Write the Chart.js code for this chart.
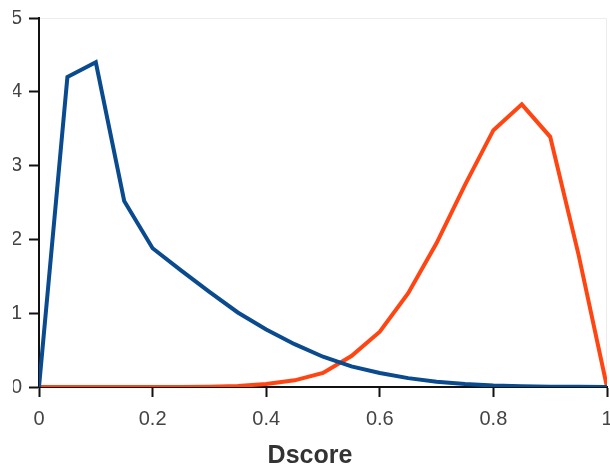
<!DOCTYPE html>
<html>
<head>
<meta charset="utf-8">
<script src="https://cdn.jsdelivr.net/npm/chart.js@4"></script>
<style>
  html, body { margin: 0; padding: 0; background: #fff; }
  #wrap { width: 610px; height: 467px; }
</style>
</head>
<body>
<div id="wrap"><canvas id="chart" width="610" height="467"></canvas></div>
<script>
// ===== DATA =====
const xValues = [0, 0.05, 0.1, 0.15, 0.2, 0.25, 0.3, 0.35, 0.4, 0.45, 0.5,
                 0.55, 0.6, 0.65, 0.7, 0.75, 0.8, 0.85, 0.9, 0.95, 1];
const blueValues = [0, 4.2, 4.4, 2.52, 1.88, 1.58, 1.29, 1.01, 0.78, 0.58, 0.41,
                    0.28, 0.19, 0.12, 0.07, 0.04, 0.02, 0.01, 0.005, 0.002, 0];
const redValues = [0, 0, 0, 0, 0, 0, 0.005, 0.015, 0.04, 0.09, 0.19,
                   0.42, 0.75, 1.27, 1.95, 2.74, 3.48, 3.83, 3.39, 1.79, 0];
const xTicks = [0, 0.2, 0.4, 0.6, 0.8, 1];
const yTicks = [0, 1, 2, 3, 4, 5];
const xTitle = 'Dscore';

const toPoints = vals => xValues.map((x, i) => ({ x, y: vals[i] }));

// faint frame on top/right of plot area
const framePlugin = {
    id: 'frame',
    beforeDraw(chart) {
        const { ctx, chartArea: a } = chart;
        ctx.save();
        ctx.strokeStyle = '#ececec';
        ctx.lineWidth = 1;
        ctx.beginPath();
        ctx.moveTo(a.left, a.top + 0.5);
        ctx.lineTo(a.right - 0.5, a.top + 0.5);
        ctx.lineTo(a.right - 0.5, a.bottom);
        ctx.stroke();
        ctx.restore();
    }
};

new Chart(document.getElementById('chart'), {
    type: 'line',
    data: {
        datasets: [
            {
                data: toPoints(blueValues),
                borderColor: '#0a4a8e',
                borderWidth: 4,
                pointRadius: 0,
                tension: 0,
                fill: false
            },
            {
                data: toPoints(redValues),
                borderColor: '#ff4512',
                borderWidth: 4,
                pointRadius: 0,
                tension: 0,
                fill: false
            }
        ]
    },
    options: {
        responsive: false,
        animation: false,
        layout: { padding: { top: 18, right: 3, left: 13, bottom: 0 } },
        plugins: {
            legend: { display: false },
            tooltip: { enabled: false },
            title: {
                display: true,
                position: 'bottom',
                text: xTitle,
                color: '#333',
                font: { family: 'Liberation Sans', size: 25, weight: 'bold', lineHeight: 0.9 },
                padding: 0
            }
        },
        scales: {
            x: {
                type: 'linear',
                min: 0,
                max: 1,
                afterBuildTicks: s => { s.ticks = xTicks.map(v => ({ value: v })); },
                afterFit: s => { s.height = 80 - 22.5; s.paddingLeft = 0; s.paddingRight = 0; },
                grid: { drawOnChartArea: false, drawTicks: true, tickLength: 10, tickWidth: 2, tickColor: '#111' },
                border: { color: '#111', width: 2 },
                ticks: {
                    color: '#444',
                    font: { family: 'Liberation Sans', size: 20 },
                    padding: 10,
                    maxRotation: 0,
                    callback: v => String(v)
                }
            },
            y: {
                min: 0,
                max: 5,
                afterBuildTicks: s => { s.ticks = yTicks.map(v => ({ value: v })); },
                afterFit: s => { s.width = 26; s.paddingTop = 0; s.paddingBottom = 0; },
                grid: { drawOnChartArea: false, drawTicks: true, tickLength: 10, tickWidth: 2, tickColor: '#111' },
                border: { color: '#111', width: 2 },
                ticks: {
                    color: '#444',
                    font: { family: 'Liberation Sans', size: 20 },
                    padding: 7
                }
            }
        }
    },
    plugins: [framePlugin]
});
</script>
</body>
</html>
